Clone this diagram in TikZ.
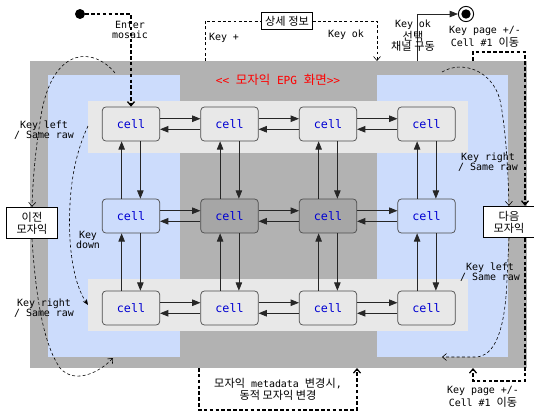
\documentclass[tikz,border=0pt]{standalone}
\usepackage{fontspec}
\setmainfont{DejaVu Sans Mono}
\newfontfamily\kr[Scale=1.12]{Noto Sans CJK KR}
\usetikzlibrary{arrows.meta}

\definecolor{bggray}{RGB}{178,178,178}
\definecolor{colblue}{RGB}{204,220,252}
\definecolor{rowgray}{RGB}{232,232,232}
\definecolor{midcell}{RGB}{166,166,166}
\definecolor{celltext}{RGB}{0,0,210}

\begin{document}
\begin{tikzpicture}[x=0.03cm, y=-0.03cm,
	cellbox/.style={draw=black!70, rounded corners=3pt, minimum width=49pt, minimum height=29pt,
		font=\fontsize{10}{10}\selectfont, text=celltext, line width=0.6pt},
	cellarrow/.style={-{Triangle[length=7pt,width=5.5pt]}, line width=0.6pt, black!85},
	thindash/.style={dash pattern=on 2.5pt off 2pt, line width=0.5pt},
	thickdash/.style={dash pattern=on 3pt off 2pt, line width=1.1pt},
	barb/.style={-{Straight Barb[length=3.5pt,width=6pt]}},
	lbl/.style={font=\fontsize{8.5}{9}\selectfont, align=center, inner sep=0pt},
	mosaic/.style={draw, fill=white, line width=0.6pt, minimum width=43pt, minimum height=27pt,
		inner sep=1pt, align=center, font=\fontsize{8.5}{10}\selectfont}]
	\useasboundingbox (0,0) rectangle (534,412);

	% Draw backgrounds
	\fill[bggray] (30,61) rectangle (527,368);
	\fill[colblue] (48,75) rectangle (180,357);
	\fill[colblue] (377,75) rectangle (508,357);
	\fill[rowgray] (88,101) rectangle (468,153);
	\fill[rowgray] (88,279) rectangle (468,331);
	\node[lbl, text=red, font=\fontsize{9.5}{10}\selectfont] (title) at (278,80) {<{}< {\kr 모자익} EPG {\kr 화면}>{}>};

	% Draw cells
	\foreach \c in {1,...,4} {
		\node[cellbox] (c1\c) at ({131+98.5*(\c-1)}, 124) {cell};
		\node[cellbox] (c3\c) at ({131+98.5*(\c-1)}, 308) {cell};
	}
	\node[cellbox] (c21) at (131, 216) {cell};
	\node[cellbox, fill=midcell] (c22) at (229.5, 216) {cell};
	\node[cellbox, fill=midcell] (c23) at (328, 216) {cell};
	\node[cellbox] (c24) at (426.5, 216) {cell};

	% Draw arrows between cells
	\foreach \r in {1,2,3} {
		\foreach \c/\n in {1/2,2/3,3/4} {
			\draw[cellarrow] ([yshift=4.5pt]c\r\c.east) -- ([yshift=4.5pt]c\r\n.west);
			\draw[cellarrow] ([yshift=-4.5pt]c\r\n.west) -- ([yshift=-4.5pt]c\r\c.east);
		}
	}
	\foreach \c in {1,...,4} {
		\foreach \r/\n in {1/2,2/3} {
			\draw[cellarrow] ([xshift=-8pt]c\n\c.north) -- ([xshift=-8pt]c\r\c.south);
			\draw[cellarrow] ([xshift=8pt]c\r\c.south) -- ([xshift=8pt]c\n\c.north);
		}
	}

	% Draw start and end states
	\node[circle, fill, inner sep=0pt, minimum size=8.5pt] (start) at (80,14) {};
	\node[circle, draw, line width=0.8pt, inner sep=0pt, minimum size=13pt] (end) at (466,14) {};
	\fill (end) circle (4pt);
	\draw[thickdash, barb] (start.east) -| (c11.north);
	\node[lbl] (enter) at (130,30) {Enter\\mosaic};

	% Draw detail info
	\node[draw, line width=0.6pt, inner sep=3pt, font=\fontsize{8.5}{9}\selectfont] (info) at (287,21) {{\kr 상세 정보}};
	\coordinate (keyplus) at (205,61);
	\coordinate (keyok) at (377,61);
	\draw[thindash] (keyplus) |- (info.west);
	\draw[thindash, barb] (info.east) -| (keyok);
	\node[lbl] (kplbl) at (224,38) {Key +};
	\node[lbl] (kolbl) at (346,35) {Key ok};

	% Draw channel select
	\coordinate (select) at (417,61);
	\draw[cellarrow] (select) |- (end.west);
	\node[lbl] (sellbl) at (413,36) {Key ok\\{\kr 선택}\\{\kr 채널 구동}};

	% Draw previous / next mosaic
	\node[mosaic] (prev) at (32,223) {{\kr 이전}\\{\kr 모자익}};
	\node[mosaic] (next) at (509,222) {{\kr 다음}\\{\kr 모자익}};

	% Draw page keys
	\coordinate (pgtop) at (473,61);
	\coordinate (redge) at (525,52);
	\coordinate (rbot) at (525,381);
	\coordinate (pgbot) at (473,368);
	\draw[thickdash, barb] (pgtop) |- (redge) -- (redge |- next.north);
	\draw[thickdash, barb] (redge |- next.south) -- (rbot) -| (pgbot);
	\node[lbl] (pglbl1) at (485,37) {Key page +/-\\Cell \#1 {\kr 이동}};
	\node[lbl] (pglbl2) at (483,397) {Key page +/-\\Cell \#1 {\kr 이동}};

	% Draw left side keys
	\coordinate (ltop) at (115,73);
	\coordinate (lbot) at (113,358);
	\coordinate (kdtop) at (88,126);
	\coordinate (kdbot) at (88,305);
	\draw[thindash, barb] (ltop) .. controls (95,48) and (55,45) .. (42,110)
		.. controls (36,145) and (33,175) .. (prev.north);
	\draw[thindash, barb] (prev.south) .. controls (36,300) and (44,345) .. (60,368)
		.. controls (75,385) and (100,372) .. (lbot);
	\draw[thindash, -{Stealth[length=5pt,width=4pt]}] (kdtop) .. controls (72,160) and (68,200) .. (70,240)
		.. controls (72,270) and (78,290) .. (kdbot);
	\node[lbl] (kl1) at (44,130) {Key left\\/ Same raw};
	\node[lbl] (kd) at (88,240) {Key\\down};
	\node[lbl] (kr1) at (44,308) {Key right\\/ Same raw};

	% Draw right side keys
	\coordinate (rtop) at (442,72);
	\coordinate (rbot2) at (442,357);
	\draw[thindash, barb] (rtop) .. controls (462,60) and (492,70) .. (500,100)
		.. controls (506,130) and (508,170) .. (next.north);
	\draw[thindash, barb] (next.south) -- (507,280) .. controls (505,330) and (495,357) .. (475,357) -- (rbot2);
	\node[lbl] (kr2) at (488,162) {Key right\\/ Same raw};
	\node[lbl] (kl2) at (490,272) {Key left\\/ Same raw};

	% Draw metadata change
	\coordinate (meta1) at (199,368);
	\coordinate (meta2) at (357,410);
	\coordinate (meta3) at (357,368);
	\draw[thickdash, barb] (meta1) |- (meta2) -- (meta3);
	\node[lbl] (meta) at (278,389) {{\kr 모자익} metadata {\kr 변경시},\\{\kr 동적 모자익 변경}};
\end{tikzpicture}
\end{document}
